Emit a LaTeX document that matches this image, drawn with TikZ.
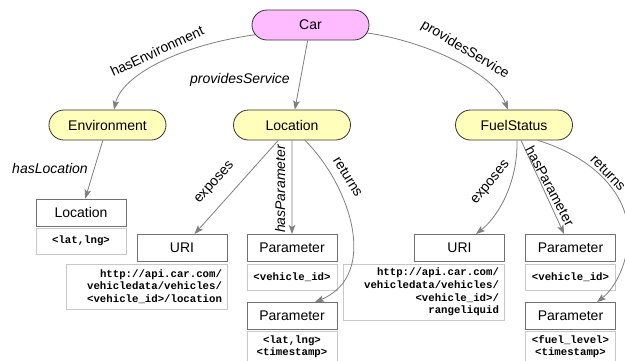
\documentclass[tikz,border=0pt]{standalone}
\usepackage{fontspec}
\setmainfont{Liberation Sans}
\setmonofont{Liberation Mono}
\usetikzlibrary{shapes.misc,arrows.meta}
\definecolor{pinkfill}{HTML}{FFBBFF}
\definecolor{yellowfill}{HTML}{FFFFBB}
\definecolor{pillborder}{HTML}{333333}
\definecolor{edgegray}{HTML}{7F7F7F}
\definecolor{boxborder}{HTML}{707070}
\definecolor{valborder}{HTML}{C8C8C8}
\begin{document}
\begin{tikzpicture}[x=1pt,y=-1pt,
 pill/.style={rounded rectangle, draw=pillborder, line width=0.8pt, minimum width=117pt, minimum height=30pt, inner sep=0pt, font=\fontsize{14}{16}\selectfont},
 lbox/.style={rectangle, draw=boxborder, line width=0.9pt, minimum width=90pt, minimum height=27pt, inner sep=0pt, font=\fontsize{14}{16}\selectfont},
 vbox/.style={rectangle, draw=valborder, line width=0.8pt, minimum width=90pt, inner sep=0pt, align=center, font=\fontsize{10.7}{12}\selectfont\ttfamily\bfseries},
 ubox/.style={rectangle, draw=valborder, line width=0.8pt, text width=151pt, inner xsep=5pt, inner ysep=0pt, align=right, font=\fontsize{10.7}{12.6}\selectfont\ttfamily\bfseries},
 rel/.style={draw=edgegray, line width=0.8pt, -{Stealth[length=9pt,width=6.5pt,inset=2pt]}},
 lbl/.style={font=\fontsize{14}{16}\selectfont, inner sep=0pt},
 ilbl/.style={inner sep=0pt, font=\fontsize{14}{16}\selectfont\itshape},
]
\useasboundingbox (0,0) rectangle (625,360);
\fill[white] (0,0) rectangle (625,360);

% main nodes
\node[pill, fill=pinkfill] (car) at (310.5,25) {Car};
\node[pill, fill=yellowfill] (env) at (107.5,125) {Environment};
\node[pill, fill=yellowfill] (loc) at (292,125) {Location};
\node[pill, fill=yellowfill] (fuel) at (514,125) {FuelStatus};

% boxes
\node[lbox] (locbox) at (81,212.5) {Location};
\node[vbox, minimum height=26pt] (locval) at (81,241) {<lat,lng>};
\node[lbox] (uri1) at (182,248) {URI};
\node[ubox, minimum height=45pt] (uri1val) at (146.5,286.5) {http://api.car.com/\\vehicledata/vehicles/\\<vehicle\_id>/location};
\node[lbox] (par1) at (292,248) {Parameter};
\node[vbox, minimum height=26pt] (par1val) at (292,277) {<vehicle\_id>};
\node[lbox] (par2) at (292,316) {Parameter};
\node[vbox, minimum height=31pt] (par2val) at (292,346.5) {<lat,lng>\\<timestamp>};
\node[lbox] (uri2) at (459.5,248) {URI};
\node[ubox, minimum height=56pt] (uri2val) at (423.5,292) {http://api.car.com/\\vehicledata/vehicles/\\<vehicle\_id>/\\rangeliquid};
\node[lbox] (par3) at (570.5,248) {Parameter};
\node[vbox, minimum height=26pt] (par3val) at (570.5,277) {<vehicle\_id>};
\node[lbox] (par4) at (570.5,316) {Parameter};
\node[vbox, minimum height=31pt] (par4val) at (570.5,346.5) {<fuel\_level>\\<timestamp>};

% connectors
\draw[rel] (car.190) .. controls (180,45) and (122,75) .. (env.67);
\draw[rel] (car) -- (loc);
\draw[rel] (car.-8) .. controls (430,42) and (495,75) .. (fuel.112);
\draw[rel] (env) -- (locbox);
\draw[rel] (loc) -- (uri1);
\draw[rel] (loc) -- (par1);
\draw[rel] ([xshift=13pt]loc.south) .. controls (350,185) and (380,275) .. ([xshift=23pt]par2.north);
\draw[rel] ([xshift=3pt]fuel.south) .. controls (518,180) and (500,215) .. ([xshift=16.5pt]uri2.north);
\draw[rel] (fuel) -- (par3);
\coordinate (bend) at (628,233);
\draw[rel] ([xshift=24pt]fuel.south) .. controls (595,158) and (628,195) .. (bend) .. controls (629,262) and (615,288) .. ([xshift=26.5pt]par4.north);

% labels
\node[lbl, rotate=25] (l1) at (157,51) {hasEnvironment};
\node[ilbl] (l2) at (240,80) {providesService};
\node[lbl, rotate=-31] (l3) at (465,50) {providesService};
\node[ilbl] (l4) at (50,168) {hasLocation};
\node[lbl, rotate=48] (l5) at (215,183) {exposes};
\node[ilbl, rotate=90] (l6) at (280,189) {hasParameter};
\node[lbl, rotate=-58] (l7) at (348,177) {returns};
\node[lbl, rotate=50] (l8) at (491,183) {exposes};
\node[lbl, rotate=-62] (l9) at (550,186) {hasParameter};
\node[lbl, rotate=-46] (l10) at (608,173) {returns};
\end{tikzpicture}
\end{document}
